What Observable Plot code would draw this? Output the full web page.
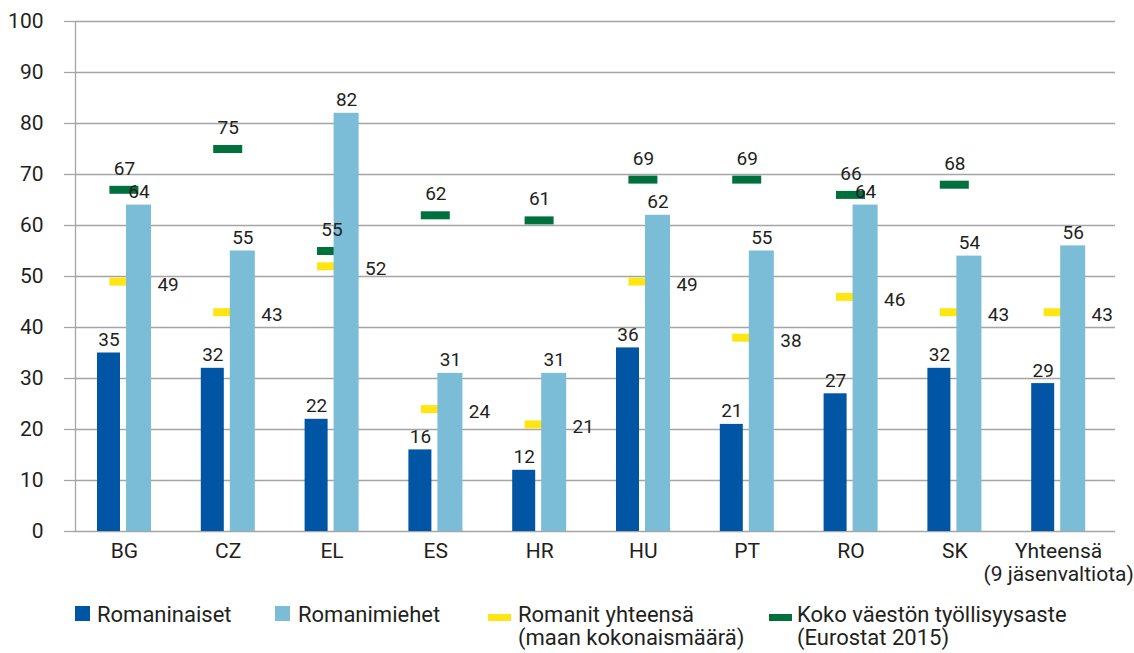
<!DOCTYPE html>
<html>
<head>
<meta charset="utf-8">
<script src="https://cdn.jsdelivr.net/npm/d3@7"></script>
<script src="https://cdn.jsdelivr.net/npm/@observablehq/plot@0.6"></script>
<style>
  html, body { margin: 0; padding: 0; background: #fff; }
  body { font-family: Roboto, "Open Sans", sans-serif; color: #231f20; width: 1134px; }
  #chart svg { display: block; }
  #legend { position: relative; height: 63px; width: 1134px; font-size: 22px; line-height: 23px; }
  .item { position: absolute; top: 13px; }
  .sw { position: absolute; }
  .lbl { position: absolute; white-space: nowrap; }
</style>
</head>
<body>
<div id="chart"></div>
<div id="legend"></div>
<script>
const categories = ["BG", "CZ", "EL", "ES", "HR", "HU", "PT", "RO", "SK", "Yhteensä (9 jäsenvaltiota)"];
const romaninaiset = [35, 32, 22, 16, 12, 36, 21, 27, 32, 29];
const romanimiehet = [64, 55, 82, 31, 31, 62, 55, 64, 54, 56];
const romanitYhteensa = [49, 43, 52, 24, 21, 49, 38, 46, 43, 43];
const kokoVaesto = [67, 75, 55, 62, 61, 69, 69, 66, 68, null];
const yTicks = [0, 10, 20, 30, 40, 50, 60, 70, 80, 90, 100];
const seriesNames = ["Romaninaiset", "Romanimiehet", "Romanit yhteensä\n(maan kokonaismäärä)", "Koko väestön työllisyysaste\n(Eurostat 2015)"];

const colors = { dark: "#0055a4", light: "#7bbcd7", yellow: "#ffe512", green: "#00703c", grid: "#a5a5a8", text: "#231f20" };

const rows = categories.map((c, i) => ({
  category: c,
  naiset: romaninaiset[i],
  miehet: romanimiehet[i],
  yhteensa: romanitYhteensa[i],
  koko: kokoVaesto[i]
}));
const kokoRows = rows.filter(d => d.koko != null);

const W = 1134, H = 590;
const mL = 75, mR = 19;
const bandStart = 72, bandEnd = 1110;
const bw = (bandEnd - bandStart) / categories.length;

const axisLine = (index, scales, values, dimensions) => {
  const l = document.createElementNS("http://www.w3.org/2000/svg", "line");
  const x = dimensions.marginLeft + 0.5;
  l.setAttribute("x1", x); l.setAttribute("x2", x);
  l.setAttribute("y1", scales.y(100)); l.setAttribute("y2", scales.y(0));
  l.setAttribute("stroke", colors.grid); l.setAttribute("stroke-width", 1.3);
  return l;
};

const chart = Plot.plot({
  width: W,
  height: H,
  marginLeft: mL,
  marginRight: mR,
  marginTop: 21,
  marginBottom: 59,
  style: { fontFamily: "Roboto, 'Open Sans', sans-serif", fontSize: "21px", color: colors.text, background: "#fff" },
  x: { domain: categories, range: [bandStart, bandEnd], round: false, padding: 0, label: null },
  y: { domain: [0, 100], label: null },
  marks: [
    Plot.gridY(yTicks, { stroke: colors.grid, strokeOpacity: 1, strokeWidth: 1.3 }),
    Plot.axisY(yTicks, { tickSize: 11, tickPadding: 21, stroke: colors.grid, strokeWidth: 1.3, fill: colors.text, fontSize: 21, label: null }),
    axisLine,
    Plot.axisX({ tickSize: 0, tickPadding: 10, fontSize: 21, fill: colors.text, lineHeight: 1.1, label: null,
      tickFormat: d => d.replace(" (", "\n(") }),
    // markers (drawn below bars)
    Plot.tickY(rows, { x: "category", y: "yhteensa", stroke: colors.yellow, strokeWidth: 8, insetLeft: (bw - 29) / 2, insetRight: (bw - 29) / 2 }),
    Plot.tickY(kokoRows, { x: "category", y: "koko", stroke: colors.green, strokeWidth: 8, insetLeft: (bw - 29) / 2, insetRight: (bw - 29) / 2 }),
    // bars
    Plot.barY(rows, { x: "category", y: "naiset", fill: colors.dark, insetLeft: 25, insetRight: bw - 48 }),
    Plot.barY(rows, { x: "category", y: "miehet", fill: colors.light, insetLeft: 54, insetRight: bw - 79 }),
    // labels
    Plot.text(rows, { x: "category", y: "naiset", text: d => String(d.naiset), dx: 36.5 - bw / 2, dy: -13, fontSize: 19, fill: colors.text }),
    Plot.text(rows, { x: "category", y: "miehet", text: d => String(d.miehet), dx: 66.5 - bw / 2, dy: -13, fontSize: 19, fill: colors.text }),
    Plot.text(rows, { x: "category", y: "yhteensa", text: d => String(d.yhteensa), dx: 33, dy: 3, textAnchor: "start", fontSize: 19, fill: colors.text }),
    Plot.text(kokoRows, { x: "category", y: "koko", text: d => String(d.koko), dy: -21, fontSize: 19, fill: colors.text })
  ]
});
document.getElementById("chart").appendChild(chart);

// Legend
const legend = document.getElementById("legend");
const legendItems = [
  { name: seriesNames[0], color: colors.dark, left: 75, sw: { w: 15, h: 15, top: -3 }, textLeft: 22 },
  { name: seriesNames[1], color: colors.light, left: 275, sw: { w: 15, h: 15, top: -3 }, textLeft: 23 },
  { name: seriesNames[2], color: colors.yellow, left: 488, sw: { w: 23, h: 7, top: 1 }, textLeft: 30 },
  { name: seriesNames[3], color: colors.green, left: 769, sw: { w: 23, h: 7, top: 1 }, textLeft: 28 }
];
for (const it of legendItems) {
  const d = document.createElement("div");
  d.className = "item";
  d.style.left = it.left + "px";
  const s = document.createElement("div");
  s.className = "sw";
  s.style.background = it.color;
  s.style.width = it.sw.w + "px";
  s.style.height = it.sw.h + "px";
  s.style.top = (11.5 - it.sw.h / 2 + it.sw.top + 2) + "px";
  s.style.left = "0px";
  const t = document.createElement("div");
  t.className = "lbl";
  t.style.left = it.textLeft + "px";
  t.style.top = "0px";
  t.innerHTML = it.name.split("\n").join("<br>");
  d.appendChild(s); d.appendChild(t);
  legend.appendChild(d);
}
</script>
</body>
</html>
